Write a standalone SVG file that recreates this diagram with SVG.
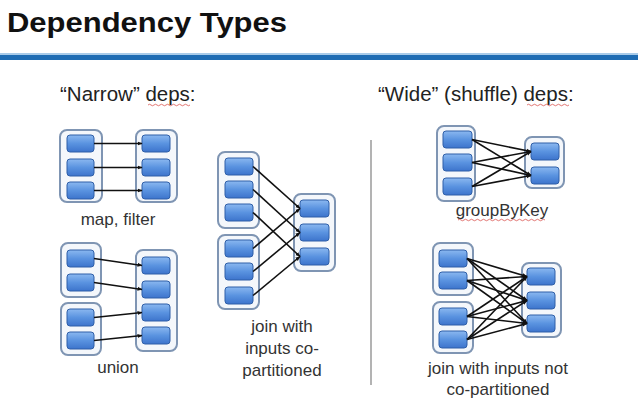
<svg xmlns="http://www.w3.org/2000/svg" width="638" height="410" viewBox="0 0 638 410">
<defs>
  <linearGradient id="boxg" x1="0" y1="0" x2="0" y2="1">
    <stop offset="0" stop-color="#8bb8f0"/>
    <stop offset="0.5" stop-color="#5a93e0"/>
    <stop offset="1" stop-color="#3d74cc"/>
  </linearGradient>
  <marker id="arr" viewBox="0 0 10 10" refX="9" refY="5" markerWidth="5" markerHeight="5" orient="auto" markerUnits="userSpaceOnUse">
    <path d="M0,1 L10,5 L0,9 z" fill="#111"/>
  </marker>
  <style>
    .cont { fill: #f4f7fb; stroke: #7f95b3; stroke-width: 2; }
    .box { fill: url(#boxg); stroke: #2f5fa8; stroke-width: 1; }
    .ln { stroke: #111; stroke-width: 1.6; fill: none; marker-end: url(#arr); }
    .lbl { font-family: "Liberation Sans", Arial, sans-serif; font-size: 17px; fill: #333; text-anchor: middle; }
    .hd { font-family: "Liberation Sans", Arial, sans-serif; font-size: 20.5px; fill: #222; }
    .sq { stroke: #d9534f; stroke-width: 0.8; fill: none; }
  </style>
</defs>
<rect x="0" y="0" width="638" height="410" fill="#ffffff"/>
<text x="7" y="32" font-family="'Liberation Sans', Arial, sans-serif" font-weight="bold" font-size="28.5" fill="#111" textLength="280" lengthAdjust="spacingAndGlyphs">Dependency Types</text>
<rect x="0" y="53" width="638" height="2" fill="#a9cbe9"/>
<rect x="0" y="55" width="638" height="5" fill="#1f6cb3"/>

<text class="hd" x="60" y="101">“Narrow” deps:</text>
<path class="sq" d="M148,105 q1.5,-1.5 3,0 t3,0 t3,0 t3,0 t3,0 t3,0 t3,0 t3,0 t3,0 t3,0 t3,0 t3,0 t3,0 t3,0"/>
<text class="hd" x="378" y="101">“Wide” (shuffle) deps:</text>
<path class="sq" d="M527,105 q1.5,-1.5 3,0 t3,0 t3,0 t3,0 t3,0 t3,0 t3,0 t3,0 t3,0 t3,0 t3,0 t3,0 t3,0 t3,0"/>

<line x1="371" y1="140" x2="371" y2="385" stroke="#9a9a9a" stroke-width="1.5"/>

<!-- map, filter -->
<g id="map-parent">
  <rect class="cont" x="60" y="130" width="42" height="72" rx="7"/>
  <rect class="box" x="67" y="135" width="27" height="17" rx="3"/>
  <rect class="box" x="67" y="159" width="27" height="17" rx="3"/>
  <rect class="box" x="67" y="182" width="27" height="17" rx="3"/>
</g>
<g id="map-child">
  <rect class="cont" x="136" y="130" width="41" height="72" rx="7"/>
  <rect class="box" x="142" y="135" width="28" height="17" rx="3"/>
  <rect class="box" x="142" y="159" width="28" height="17" rx="3"/>
  <rect class="box" x="142" y="182" width="28" height="17" rx="3"/>
</g>
<text class="lbl" x="118" y="225">map, filter</text>

<!-- union -->
<g id="union-parent-1">
  <rect class="cont" x="61" y="243" width="40" height="54" rx="7"/>
  <rect class="box" x="67" y="250" width="27" height="17" rx="3"/>
  <rect class="box" x="67" y="274" width="27" height="17" rx="3"/>
</g>
<g id="union-parent-2">
  <rect class="cont" x="61" y="303" width="40" height="52" rx="7"/>
  <rect class="box" x="67" y="309" width="27" height="17" rx="3"/>
  <rect class="box" x="67" y="332" width="27" height="17" rx="3"/>
</g>
<g id="union-child">
  <rect class="cont" x="136" y="250" width="41" height="101" rx="7"/>
  <rect class="box" x="142" y="257" width="28" height="17" rx="3"/>
  <rect class="box" x="142" y="281" width="28" height="17" rx="3"/>
  <rect class="box" x="142" y="304" width="28" height="17" rx="3"/>
  <rect class="box" x="142" y="327" width="28" height="17" rx="3"/>
</g>
<text class="lbl" x="118" y="373">union</text>

<!-- join co-partitioned -->
<g id="join-co-parent-1">
  <rect class="cont" x="218" y="152" width="41" height="76" rx="7"/>
  <rect class="box" x="225" y="158" width="28" height="17" rx="3"/>
  <rect class="box" x="225" y="181" width="28" height="17" rx="3"/>
  <rect class="box" x="225" y="204" width="28" height="17" rx="3"/>
</g>
<g id="join-co-parent-2">
  <rect class="cont" x="218" y="235" width="41" height="74" rx="7"/>
  <rect class="box" x="225" y="240" width="28" height="17" rx="3"/>
  <rect class="box" x="225" y="263" width="28" height="17" rx="3"/>
  <rect class="box" x="225" y="287" width="28" height="17" rx="3"/>
</g>
<g id="join-co-child">
  <rect class="cont" x="294" y="194" width="41" height="77" rx="7"/>
  <rect class="box" x="300" y="200" width="29" height="17" rx="3"/>
  <rect class="box" x="300" y="224" width="29" height="17" rx="3"/>
  <rect class="box" x="300" y="248" width="29" height="17" rx="3"/>
</g>
<text class="lbl" x="282" y="332">join with</text>
<text class="lbl" x="282" y="354">inputs co-</text>
<text class="lbl" x="282" y="376">partitioned</text>

<!-- groupByKey -->
<g id="gbk-parent">
  <rect class="cont" x="437" y="126" width="38" height="75" rx="7"/>
  <rect class="box" x="443" y="131" width="29" height="17" rx="3"/>
  <rect class="box" x="443" y="154" width="29" height="17" rx="3"/>
  <rect class="box" x="443" y="178" width="29" height="17" rx="3"/>
</g>
<g id="gbk-child">
  <rect class="cont" x="525" y="137" width="39" height="51" rx="7"/>
  <rect class="box" x="531" y="143" width="28" height="17" rx="3"/>
  <rect class="box" x="531" y="167" width="28" height="17" rx="3"/>
</g>
<text class="lbl" x="502" y="216">groupByKey</text>
<path class="sq" d="M458,220 q1.5,-1.5 3,0 t3,0 t3,0 t3,0 t3,0 t3,0 t3,0 t3,0 t3,0 t3,0 t3,0 t3,0 t3,0 t3,0 t3,0 t3,0 t3,0 t3,0 t3,0 t3,0 t3,0 t3,0 t3,0 t3,0 t3,0 t3,0 t3,0 t3,0 t3,0"/>

<!-- join not co-partitioned -->
<g id="join-nc-parent-1">
  <rect class="cont" x="433" y="243" width="40" height="52" rx="7"/>
  <rect class="box" x="439" y="250" width="28" height="17" rx="3"/>
  <rect class="box" x="439" y="272" width="28" height="17" rx="3"/>
</g>
<g id="join-nc-parent-2">
  <rect class="cont" x="433" y="302" width="40" height="51" rx="7"/>
  <rect class="box" x="439" y="308" width="28" height="17" rx="3"/>
  <rect class="box" x="439" y="331" width="28" height="17" rx="3"/>
</g>
<g id="join-nc-child">
  <rect class="cont" x="522" y="263" width="39" height="74" rx="7"/>
  <rect class="box" x="527" y="268" width="28" height="17" rx="3"/>
  <rect class="box" x="527" y="292" width="28" height="17" rx="3"/>
  <rect class="box" x="527" y="315" width="28" height="17" rx="3"/>
</g>
<text class="lbl" x="498" y="374">join with inputs not</text>
<text class="lbl" x="498" y="395">co-partitioned</text>

<g id="connectors">
  <!-- map -->
  <line class="ln" x1="94" y1="143.5" x2="142" y2="143.5"/>
  <line class="ln" x1="94" y1="167.5" x2="142" y2="167.5"/>
  <line class="ln" x1="94" y1="190.5" x2="142" y2="190.5"/>
  <!-- union -->
  <line class="ln" x1="94" y1="258.5" x2="142" y2="265.5"/>
  <line class="ln" x1="94" y1="282.5" x2="142" y2="289.5"/>
  <line class="ln" x1="94" y1="317.5" x2="142" y2="312.5"/>
  <line class="ln" x1="94" y1="340.5" x2="142" y2="335.5"/>
  <!-- join co -->
  <line class="ln" x1="253" y1="166.5" x2="300" y2="208.5"/>
  <line class="ln" x1="253" y1="189.5" x2="300" y2="232.5"/>
  <line class="ln" x1="253" y1="212.5" x2="300" y2="256.5"/>
  <line class="ln" x1="253" y1="248.5" x2="300" y2="208.5"/>
  <line class="ln" x1="253" y1="271.5" x2="300" y2="232.5"/>
  <line class="ln" x1="253" y1="295.5" x2="300" y2="256.5"/>
  <!-- groupByKey -->
  <line class="ln" x1="472" y1="139.5" x2="531" y2="151.5"/>
  <line class="ln" x1="472" y1="139.5" x2="531" y2="175.5"/>
  <line class="ln" x1="472" y1="162.5" x2="531" y2="151.5"/>
  <line class="ln" x1="472" y1="162.5" x2="531" y2="175.5"/>
  <line class="ln" x1="472" y1="186.5" x2="531" y2="151.5"/>
  <line class="ln" x1="472" y1="186.5" x2="531" y2="175.5"/>
  <!-- join not co -->
  <line class="ln" x1="467" y1="258.5" x2="527" y2="276.5"/>
  <line class="ln" x1="467" y1="258.5" x2="527" y2="300.5"/>
  <line class="ln" x1="467" y1="258.5" x2="527" y2="323.5"/>
  <line class="ln" x1="467" y1="280.5" x2="527" y2="276.5"/>
  <line class="ln" x1="467" y1="280.5" x2="527" y2="300.5"/>
  <line class="ln" x1="467" y1="280.5" x2="527" y2="323.5"/>
  <line class="ln" x1="467" y1="316.5" x2="527" y2="276.5"/>
  <line class="ln" x1="467" y1="316.5" x2="527" y2="300.5"/>
  <line class="ln" x1="467" y1="316.5" x2="527" y2="323.5"/>
  <line class="ln" x1="467" y1="339.5" x2="527" y2="276.5"/>
  <line class="ln" x1="467" y1="339.5" x2="527" y2="300.5"/>
  <line class="ln" x1="467" y1="339.5" x2="527" y2="323.5"/>
</g>
</svg>
